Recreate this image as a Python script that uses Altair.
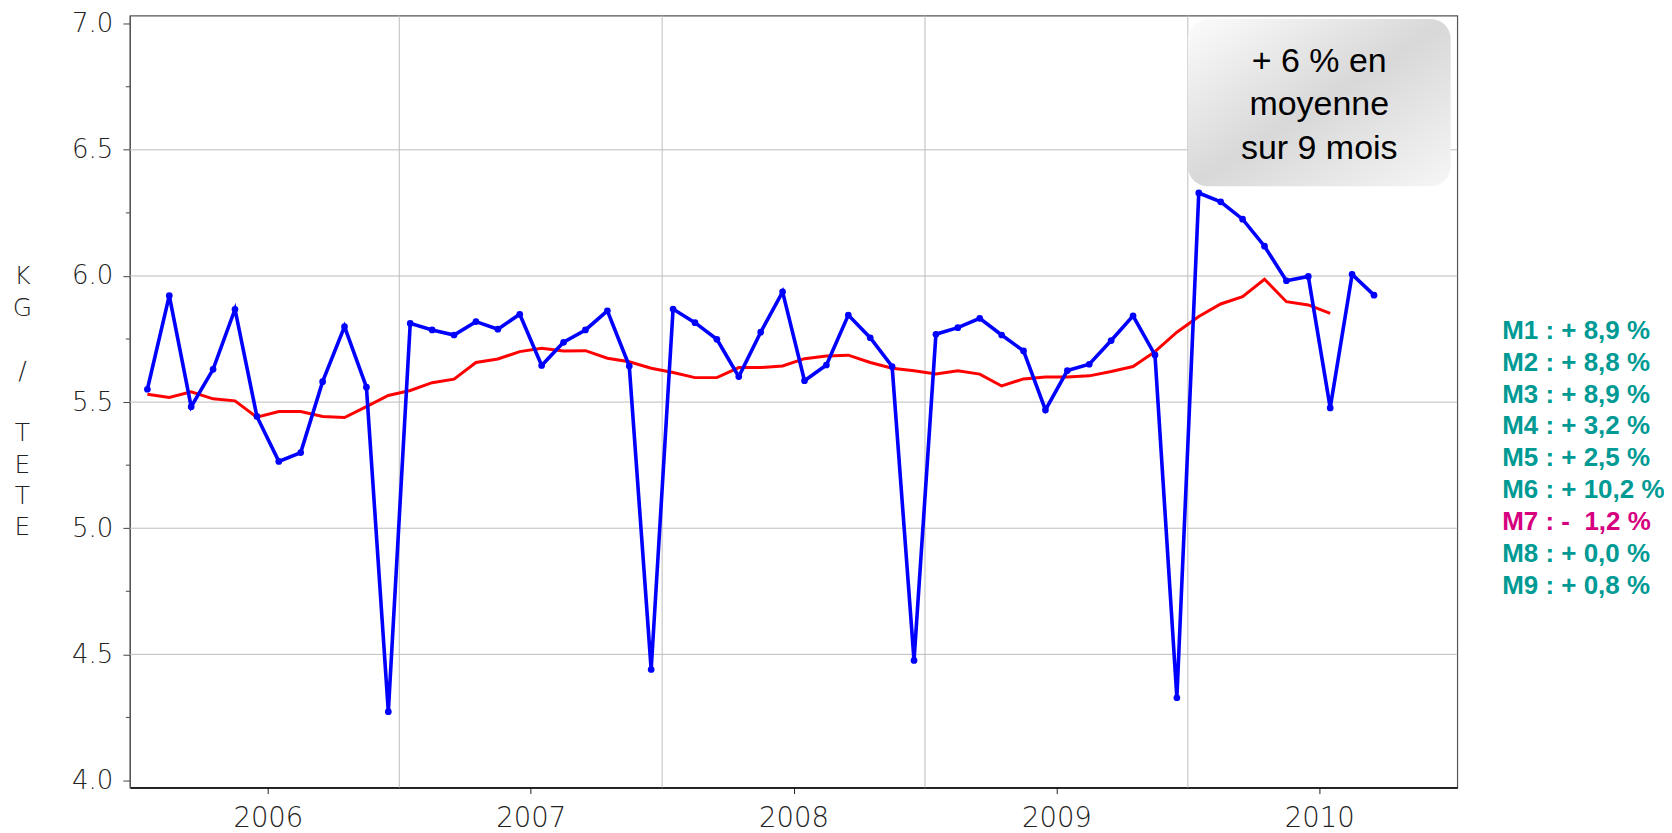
import altair as alt
import pandas as pd

# ---------------- data ----------------
blue_values = [5.551, 5.922, 5.482, 5.630, 5.868, 5.443, 5.265, 5.300, 5.581, 5.799,
               5.559, 4.273, 5.812, 5.786, 5.766, 5.819, 5.789, 5.848, 5.645, 5.737,
               5.786, 5.862, 5.643, 4.440, 5.869, 5.815, 5.749, 5.601, 5.777, 5.937,
               5.585, 5.647, 5.845, 5.755, 5.641, 4.476, 5.769, 5.795, 5.832, 5.766,
               5.703, 5.469, 5.625, 5.650, 5.744, 5.842, 5.687, 4.328, 6.329, 6.294,
               6.225, 6.118, 5.981, 5.998, 5.477, 6.006, 5.924]
red_values = [5.531, 5.518, 5.541, 5.513, 5.505, 5.440, 5.463, 5.463, 5.443, 5.439,
              5.482, 5.526, 5.546, 5.577, 5.591, 5.657, 5.671, 5.700, 5.713, 5.703,
              5.704, 5.674, 5.660, 5.634, 5.617, 5.597, 5.597, 5.637, 5.637, 5.643,
              5.672, 5.683, 5.686, 5.657, 5.634, 5.624, 5.611, 5.624, 5.611, 5.564,
              5.592, 5.599, 5.599, 5.604, 5.621, 5.641, 5.700, 5.777, 5.839, 5.889,
              5.918, 5.987, 5.898, 5.885, 5.852]
months_blue = pd.period_range("2005-07", periods=len(blue_values), freq="M")
months_red = pd.period_range("2005-07", periods=len(red_values), freq="M")

x_ticks = [2006, 2007, 2008, 2009, 2010]
x_grid = [2006.5, 2007.5, 2008.5, 2009.5]
y_ticks = [4.0, 4.5, 5.0, 5.5, 6.0, 6.5, 7.0]
y_grid = [4.5, 5.0, 5.5, 6.0, 6.5]
y_minor = [4.25, 4.75, 5.25, 5.75, 6.25, 6.75]

m_labels = ["M1 : + 8,9 %", "M2 : + 8,8 %", "M3 : + 8,9 %", "M4 : + 3,2 %",
            "M5 : + 2,5 %", "M6 : + 10,2 %", "M7 : -\u00a0 1,2 %", "M8 : + 0,0 %",
            "M9 : + 0,8 %"]
m_colors = ["#009a94"] * 6 + ["#d6007f"] + ["#009a94"] * 2

title_lines = ["K", "G", "", "/", "", "T", "E", "T", "E"]

note_text = "+ 6 % en\nmoyenne\nsur 9 mois"
note_box_x = [2009.5, 2010.5]
note_box_y = [6.356, 7.019]
note_anchor = [2010.0, 6.808]


def dec(periods):
    return [p.year + (p.month - 0.5) / 12 for p in periods]


blue_df = pd.DataFrame({"t": dec(months_blue), "v": blue_values})
red_df = pd.DataFrame({"t": dec(months_red), "v": red_values})

# ---------------- scales / axes ----------------
W, H = 1329, 773
xs = alt.Scale(domain=[2005.475, 2010.525], nice=False, zero=False)
ys = alt.Scale(domain=[3.972, 7.0325], nice=False, zero=False)

AX_FONT = "DejaVu Sans"
x_axis = alt.Axis(values=x_ticks, format="d", title=None, grid=False, tickSize=6,
                  tickColor="#222", domainColor="#000", domainWidth=1.5,
                  labelFont=AX_FONT, labelFontWeight=200, labelFontSize=27.5,
                  labelColor="#222", labelPadding=11)
y_axis = alt.Axis(values=y_ticks, format=".1f", title=None, grid=False, tickSize=7,
                  tickColor="#444", domainColor="#555", domainWidth=1.2,
                  labelFont=AX_FONT, labelFontWeight=200, labelFontSize=26,
                  labelColor="#222", labelPadding=10)


def X(f):
    return alt.X(f, type="quantitative", scale=xs, axis=x_axis)


def Y(f):
    return alt.Y(f, type="quantitative", scale=ys, axis=y_axis)


one = pd.DataFrame({"a": [0]})

grid_h = alt.Chart(pd.DataFrame({"v": y_grid})).mark_rule(
    color="#bdbdbd", strokeWidth=1).encode(y=Y("v"))
grid_v = alt.Chart(pd.DataFrame({"t": x_grid})).mark_rule(
    color="#bdbdbd", strokeWidth=1).encode(x=X("t"))
minor = alt.Chart(pd.DataFrame({"v": y_minor})).mark_rule(
    color="#444", strokeWidth=1).encode(y=Y("v"), x=alt.value(-4), x2=alt.value(0))

grad = {
    "gradient": "linear", "x1": 0, "y1": 0, "x2": 1, "y2": 1,
    "stops": [
        {"offset": 0.0, "color": "#fcfcfc"},
        {"offset": 0.5, "color": "#d8d8d8"},
        {"offset": 1.0, "color": "#f6f6f6"},
    ],
}
box_df = pd.DataFrame({"x0": [note_box_x[0]], "x1": [note_box_x[1]],
                       "y0": [note_box_y[0]], "y1": [note_box_y[1]]})
box = alt.Chart(box_df).mark_rect(cornerRadius=20, fill=grad).encode(
    x=X("x0"), x2="x1", y=Y("y0"), y2="y1")
note_df = pd.DataFrame({"x": [note_anchor[0]], "y": [note_anchor[1]], "label": [note_text]})
note = alt.Chart(note_df).mark_text(
    font="Liberation Sans", fontSize=34, lineBreak="\n", lineHeight=43.3,
    align="center", baseline="alphabetic", color="#000"
).encode(x=X("x"), y=Y("y"), text="label:N")

red_line = alt.Chart(red_df).mark_line(color="#ff0000", strokeWidth=3).encode(
    x=X("t"), y=Y("v"))
blue_line = alt.Chart(blue_df).mark_line(
    color="#0000ff", strokeWidth=3.6,
    point=alt.OverlayMarkDef(filled=True, size=45, color="#0000ff", opacity=1)
).encode(x=X("t"), y=Y("v"))

layers = [grid_h, grid_v, minor, box, note, red_line, blue_line]

# vertical axis title, one letter per line
for i, ch in enumerate(title_lines):
    if not ch:
        continue
    layers.append(
        alt.Chart(one).mark_text(
            text=ch, font=AX_FONT, fontWeight=200, fontSize=25, color="#222",
            align="center", baseline="alphabetic"
        ).encode(x=alt.value(-107.5), y=alt.value(269.3 + 31.4 * i))
    )

# side notes M1..M9
for i, (lab, col) in enumerate(zip(m_labels, m_colors)):
    layers.append(
        alt.Chart(one).mark_text(
            text=lab, font="Liberation Sans", fontWeight="bold", fontSize=26, color=col,
            align="left", baseline="alphabetic"
        ).encode(x=alt.value(1374), y=alt.value(323.5 + 32 * i))
    )

chart = alt.layer(*layers).properties(
    width=W, height=H,
    padding={"left": 122, "top": 7, "right": 207, "bottom": 50},
    autosize=alt.AutoSizeParams(type="none"),
    background="white",
).configure_view(stroke="#555", strokeWidth=1.2)

chart.save("out.html", embed_options={"renderer": "svg", "actions": False})
